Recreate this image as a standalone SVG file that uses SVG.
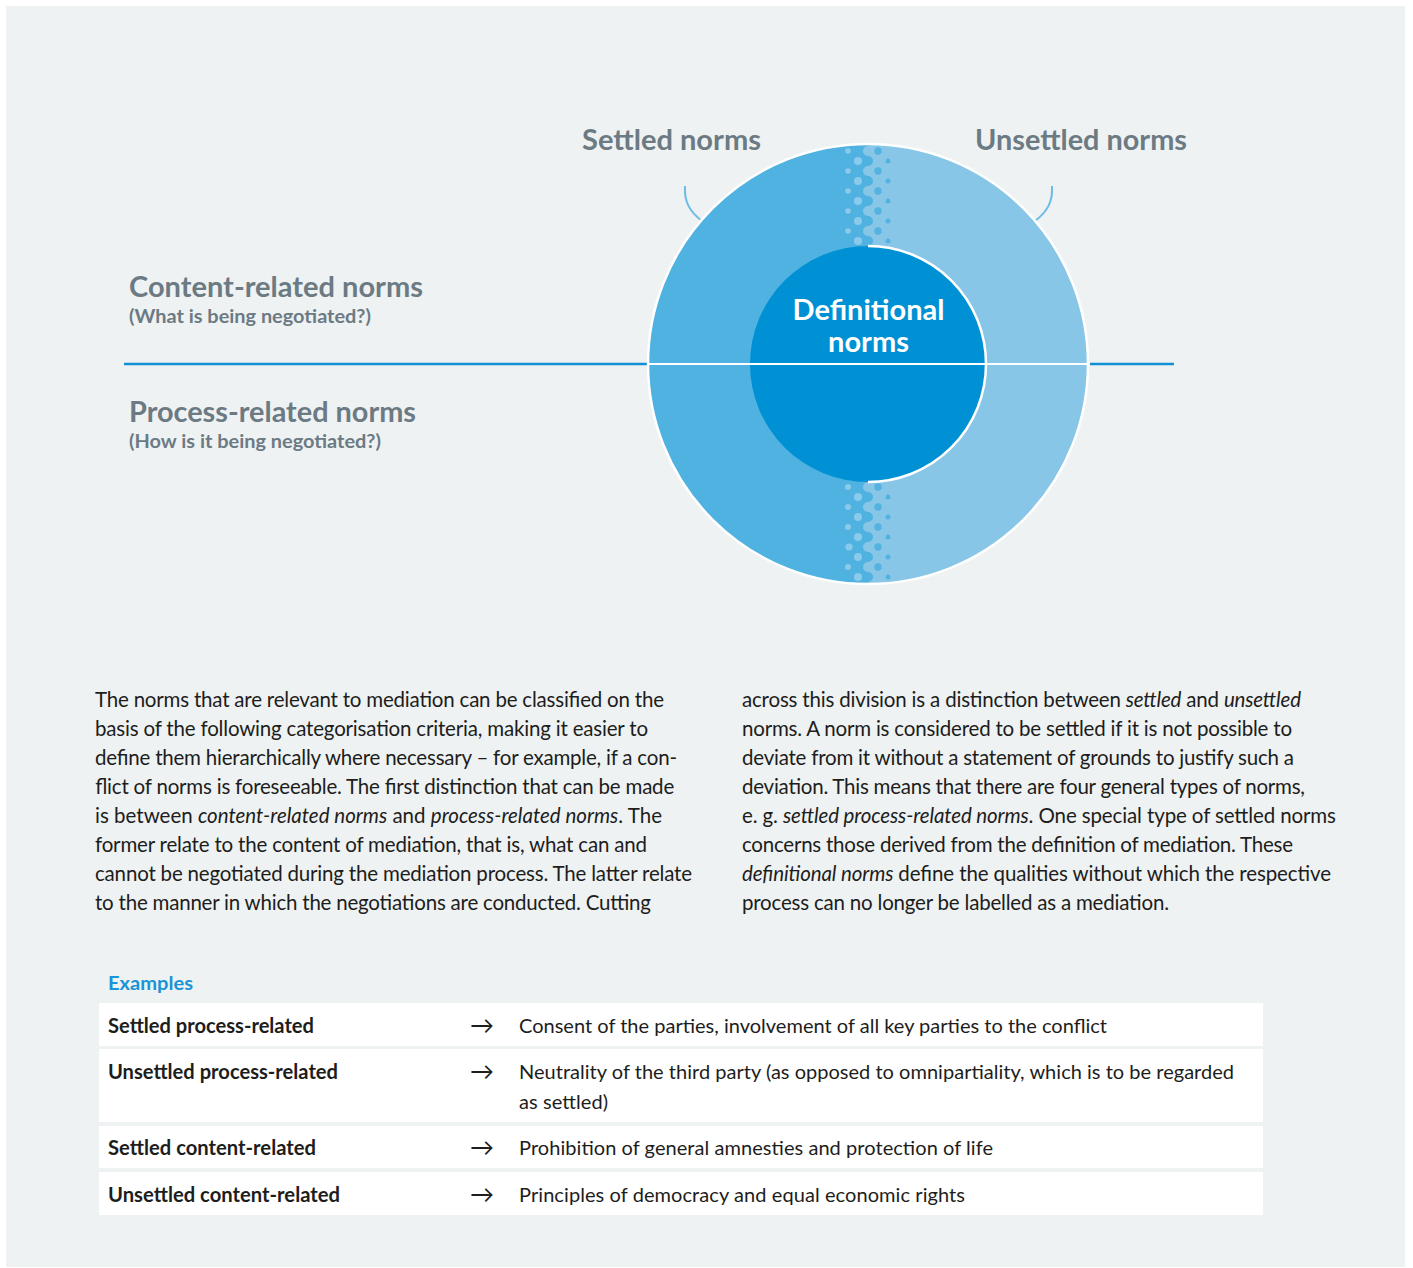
<svg xmlns="http://www.w3.org/2000/svg" width="1413" height="1268" viewBox="0 0 1413 1268">
  <style>
    .head { font-family: Lato, "Noto Sans", "DejaVu Sans", sans-serif; font-weight: 700; fill: #6C7A83; }
    .head-lg { font-size: 29px; }
    .head-sm { font-size: 18.5px; }
    .inner-label { font-family: Lato, "Noto Sans", "DejaVu Sans", sans-serif; font-weight: 700; font-size: 29px; fill: #FFFFFF; }
    .body { font-family: Lato, "Noto Sans", "DejaVu Sans", sans-serif; font-size: 20.5px; fill: #1D1D1B; }
    .body tspan.it { font-style: italic; }
    .ex-title { font-family: Lato, "Noto Sans", "DejaVu Sans", sans-serif; font-weight: 700; font-size: 19.5px; fill: #1A94D6; }
    .row { fill: #FFFFFF; }
    .cell-label { font-family: Lato, "Noto Sans", "DejaVu Sans", sans-serif; font-weight: 700; font-size: 20px; fill: #1D1D1B; }
    .cell-text { font-family: Lato, "Noto Sans", "DejaVu Sans", sans-serif; font-size: 20px; fill: #1D1D1B; }
    .arrow { font-family: Lato, "Noto Sans", "DejaVu Sans", sans-serif; font-size: 24px; fill: #1D1D1B; }
    .axis { stroke: #1190D6; stroke-width: 2.5; fill: none; }
    .brace { stroke: #6DBCE6; stroke-width: 2; fill: none; }
    .light-dot { fill: #8ACAEA; }
    .dark-dot { fill: #52B3E1; }
  </style>
  <defs>
    <clipPath id="ring-clip">
      <circle cx="868" cy="364" r="220"/>
    </clipPath>
  </defs>

  <!-- page panel -->
  <rect x="0" y="0" width="1413" height="1268" fill="#FFFFFF"/>
  <rect x="6" y="6" width="1399" height="1261" fill="#EEF2F3"/>

  <!-- connectors: dividing axis and the two label hooks -->
  <g id="connectors">
    <line class="axis" x1="124" y1="364" x2="647" y2="364"/>
    <line class="axis" x1="1090" y1="364" x2="1174" y2="364"/>
    <path class="brace" d="M685 186 C684 201 689 211 702 221"/>
    <path class="brace" d="M1052 186 C1053 201 1048 211 1035 221"/>
  </g>

  <!-- outer ring: settled (left) and unsettled (right) halves -->
  <g id="ring">
    <circle cx="868" cy="364" r="220" fill="#4FB2E1"/>
    <g clip-path="url(#ring-clip)">
      <path fill="#88C6E8" d="M868 120 L868 136
        A5 5 0 0 1 868 146 A5 5 0 0 0 868 156
        A5 5 0 0 1 868 166 A5 5 0 0 0 868 176
        A5 5 0 0 1 868 186 A5 5 0 0 0 868 196
        A5 5 0 0 1 868 206 A5 5 0 0 0 868 216
        A5 5 0 0 1 868 226 A5 5 0 0 0 868 236
        A5 5 0 0 1 868 246
        L868 482
        A5 5 0 0 0 868 492 A5 5 0 0 1 868 502
        A5 5 0 0 0 868 512 A5 5 0 0 1 868 522
        A5 5 0 0 0 868 532 A5 5 0 0 1 868 542
        A5 5 0 0 0 868 552 A5 5 0 0 1 868 562
        A5 5 0 0 0 868 572 A5 5 0 0 1 868 582
        L868 600 L1100 600 L1100 120 Z"/>
      <!-- transition dots, upper seam -->
      <circle class="light-dot" cx="848" cy="151" r="2.8"/>
      <circle class="light-dot" cx="848" cy="171" r="2.8"/>
      <circle class="light-dot" cx="848" cy="191" r="2.8"/>
      <circle class="light-dot" cx="848" cy="211" r="2.8"/>
      <circle class="light-dot" cx="848" cy="231" r="2.8"/>
      <circle class="light-dot" cx="858" cy="161" r="4"/>
      <circle class="light-dot" cx="858" cy="181" r="4"/>
      <circle class="light-dot" cx="858" cy="201" r="4"/>
      <circle class="light-dot" cx="858" cy="221" r="4"/>
      <circle class="light-dot" cx="858" cy="241" r="4"/>
      <circle class="dark-dot" cx="878" cy="151" r="3.7"/>
      <circle class="dark-dot" cx="878" cy="171" r="3.7"/>
      <circle class="dark-dot" cx="878" cy="191" r="3.7"/>
      <circle class="dark-dot" cx="878" cy="211" r="3.7"/>
      <circle class="dark-dot" cx="878" cy="231" r="3.7"/>
      <circle class="dark-dot" cx="888" cy="161" r="2.5"/>
      <circle class="dark-dot" cx="888" cy="181" r="2.5"/>
      <circle class="dark-dot" cx="888" cy="201" r="2.5"/>
      <circle class="dark-dot" cx="888" cy="221" r="2.5"/>
      <circle class="dark-dot" cx="888" cy="241" r="2.5"/>
      <!-- transition dots, lower seam -->
      <circle class="light-dot" cx="848" cy="487" r="3"/>
      <circle class="light-dot" cx="848" cy="507" r="3"/>
      <circle class="light-dot" cx="848" cy="527" r="3"/>
      <circle class="light-dot" cx="849" cy="547" r="3.6"/>
      <circle class="light-dot" cx="848" cy="567" r="3"/>
      <circle class="light-dot" cx="858" cy="497" r="4"/>
      <circle class="light-dot" cx="858" cy="517" r="4"/>
      <circle class="light-dot" cx="858" cy="537" r="4"/>
      <circle class="light-dot" cx="858" cy="557" r="4"/>
      <circle class="light-dot" cx="858" cy="577" r="4"/>
      <circle class="dark-dot" cx="878" cy="487" r="3.7"/>
      <circle class="dark-dot" cx="878" cy="507" r="3.7"/>
      <circle class="dark-dot" cx="878" cy="527" r="3.7"/>
      <circle class="dark-dot" cx="878" cy="547" r="3.7"/>
      <circle class="dark-dot" cx="878" cy="567" r="3.7"/>
      <circle class="dark-dot" cx="888" cy="497" r="2.5"/>
      <circle class="dark-dot" cx="888" cy="517" r="2.5"/>
      <circle class="dark-dot" cx="888" cy="537" r="2.5"/>
      <circle class="dark-dot" cx="888" cy="557" r="2.5"/>
      <circle class="dark-dot" cx="888" cy="577" r="2.5"/>
    </g>
    <circle cx="868" cy="364" r="220" fill="none" stroke="#FFFFFF" stroke-width="2.5"/>
  </g>

  <!-- inner core -->
  <g id="definitional">
    <circle cx="868" cy="364" r="118" fill="#0090D4"/>
    <path d="M868 246 A118 118 0 0 1 868 482" fill="none" stroke="#FFFFFF" stroke-width="2.5"/>
    <line x1="648" y1="364" x2="1088" y2="364" stroke="#FFFFFF" stroke-width="2"/>
    <text class="inner-label" x="868.5" y="319.5" text-anchor="middle">Definitional</text>
    <text class="inner-label" x="868.5" y="352" text-anchor="middle">norms</text>
  </g>

  <g id="settled">
    <text class="head head-lg" x="582" y="150" textLength="179" lengthAdjust="spacingAndGlyphs">Settled norms</text>
  </g>
  <g id="unsettled">
    <text class="head head-lg" x="975" y="150" textLength="212" lengthAdjust="spacingAndGlyphs">Unsettled norms</text>
  </g>
  <g id="content">
    <text class="head head-lg" x="129" y="297" textLength="294" lengthAdjust="spacingAndGlyphs">Content-related norms</text>
    <text class="head head-sm" x="129" y="323" textLength="242" lengthAdjust="spacingAndGlyphs">(What is being negotiated?)</text>
  </g>
  <g id="process">
    <text class="head head-lg" x="129" y="422" textLength="287" lengthAdjust="spacingAndGlyphs">Process-related norms</text>
    <text class="head head-sm" x="129" y="448" textLength="252" lengthAdjust="spacingAndGlyphs">(How is it being negotiated?)</text>
  </g>

  <!-- explanatory text, two columns -->
  <g id="text-left" class="body">
    <text x="95" y="706.5" textLength="569" lengthAdjust="spacing">The norms that are relevant to mediation can be classified on the</text>
    <text x="95" y="735.5" textLength="553" lengthAdjust="spacing">basis of the following categorisation criteria, making it easier to</text>
    <text x="95" y="764.6" textLength="582" lengthAdjust="spacing">define them hierarchically where necessary – for example, if a con-</text>
    <text x="95" y="793.6" textLength="579" lengthAdjust="spacing">flict of norms is foreseeable. The first distinction that can be made</text>
    <text x="95" y="822.7" textLength="567" lengthAdjust="spacing">is between <tspan class="it">content-related norms</tspan> and <tspan class="it">process-related norms</tspan>. The</text>
    <text x="95" y="851.7" textLength="552" lengthAdjust="spacing">former relate to the content of mediation, that is, what can and</text>
    <text x="95" y="880.8" textLength="597" lengthAdjust="spacing">cannot be negotiated during the mediation process. The latter relate</text>
    <text x="95" y="909.8" textLength="556" lengthAdjust="spacing">to the manner in which the negotiations are conducted. Cutting</text>
  </g>
  <g id="text-right" class="body">
    <text x="742" y="706.5" textLength="559" lengthAdjust="spacing">across this division is a distinction between <tspan class="it">settled</tspan> and <tspan class="it">unsettled</tspan></text>
    <text x="742" y="735.5" textLength="550" lengthAdjust="spacing">norms. A norm is considered to be settled if it is not possible to</text>
    <text x="742" y="764.6" textLength="552" lengthAdjust="spacing">deviate from it without a statement of grounds to justify such a</text>
    <text x="742" y="793.6" textLength="563" lengthAdjust="spacing">deviation. This means that there are four general types of norms,</text>
    <text x="742" y="822.7" textLength="594" lengthAdjust="spacing">e. g. <tspan class="it">settled process-related norms</tspan>. One special type of settled norms</text>
    <text x="742" y="851.7" textLength="551" lengthAdjust="spacing">concerns those derived from the definition of mediation. These</text>
    <text x="742" y="880.8" textLength="589" lengthAdjust="spacing"><tspan class="it">definitional norms</tspan> define the qualities without which the respective</text>
    <text x="742" y="909.8" textLength="427" lengthAdjust="spacing">process can no longer be labelled as a mediation.</text>
  </g>

  <!-- examples table -->
  <g id="examples">
    <text class="ex-title" x="108" y="990" textLength="85" lengthAdjust="spacingAndGlyphs">Examples</text>

    <g id="row-1">
      <rect class="row" x="99" y="1003" width="1164" height="43"/>
      <text class="cell-label" x="108" y="1033" textLength="206" lengthAdjust="spacingAndGlyphs">Settled process-related</text>
      <text class="arrow" x="470" y="1034" textLength="24" lengthAdjust="spacingAndGlyphs">→</text>
      <text class="cell-text" x="519" y="1033" textLength="588" lengthAdjust="spacing">Consent of the parties, involvement of all key parties to the conflict</text>
    </g>
    <g id="row-2">
      <rect class="row" x="99" y="1049" width="1164" height="73"/>
      <text class="cell-label" x="108" y="1079" textLength="230" lengthAdjust="spacingAndGlyphs">Unsettled process-related</text>
      <text class="arrow" x="470" y="1080" textLength="24" lengthAdjust="spacingAndGlyphs">→</text>
      <text class="cell-text" x="519" y="1079" textLength="715" lengthAdjust="spacing">Neutrality of the third party (as opposed to omnipartiality, which is to be regarded</text>
      <text class="cell-text" x="519" y="1109" textLength="89" lengthAdjust="spacing">as settled)</text>
    </g>
    <g id="row-3">
      <rect class="row" x="99" y="1126" width="1164" height="42"/>
      <text class="cell-label" x="108" y="1155" textLength="208" lengthAdjust="spacingAndGlyphs">Settled content-related</text>
      <text class="arrow" x="470" y="1156" textLength="24" lengthAdjust="spacingAndGlyphs">→</text>
      <text class="cell-text" x="519" y="1155" textLength="474" lengthAdjust="spacing">Prohibition of general amnesties and protection of life</text>
    </g>
    <g id="row-4">
      <rect class="row" x="99" y="1172" width="1164" height="43"/>
      <text class="cell-label" x="108" y="1202" textLength="232" lengthAdjust="spacingAndGlyphs">Unsettled content-related</text>
      <text class="arrow" x="470" y="1203" textLength="24" lengthAdjust="spacingAndGlyphs">→</text>
      <text class="cell-text" x="519" y="1202" textLength="446" lengthAdjust="spacing">Principles of democracy and equal economic rights</text>
    </g>
  </g>
</svg>
